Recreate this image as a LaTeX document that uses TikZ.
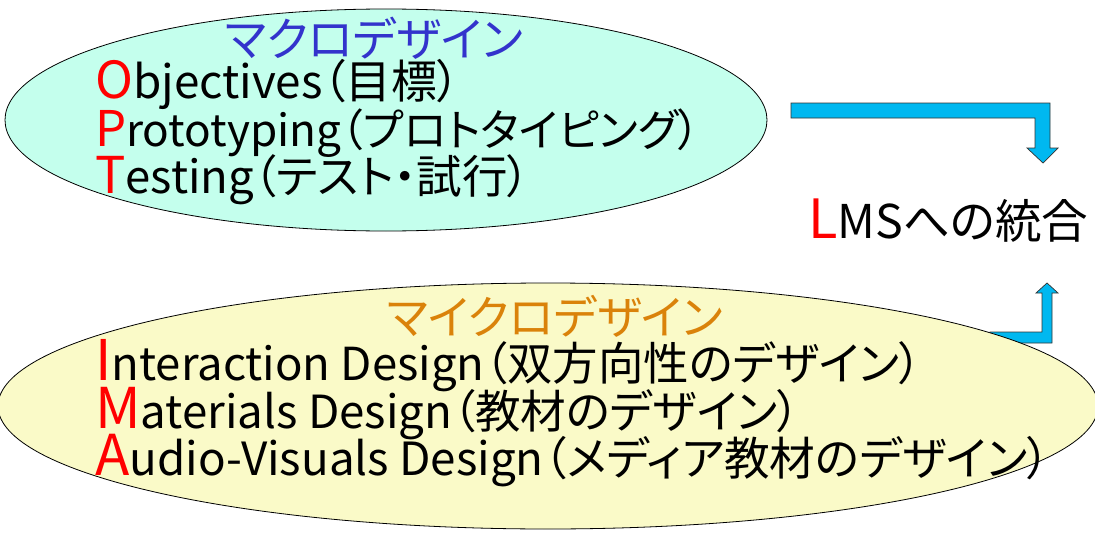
\documentclass[tikz,border=0pt]{standalone}
\usepackage{fontspec}
\setmainfont{Noto Sans CJK JP}[RawFeature=+palt]
\usetikzlibrary{shapes.geometric}
\definecolor{arrowblue}{RGB}{0,184,240}
\definecolor{macrofill}{RGB}{196,255,237}
\definecolor{microfill}{RGB}{250,250,200}
\definecolor{titleblue}{RGB}{51,51,204}
\definecolor{titleorange}{RGB}{218,130,10}
\newcommand{\redcap}[2][48]{{\fontsize{#1}{#1}\selectfont\color{red}#2}}
\newcommand{\bodytxt}[1]{{\fontsize{43}{43}\selectfont #1}}
\newcommand{\tight}[1]{\raisebox{0pt}[33pt][8pt]{#1}}
\tikzset{
  blob/.style={ellipse, draw=black, line width=0.8pt, inner sep=0pt},
  blockarrow/.style={fill=arrowblue, draw=black!80, line width=0.7pt, line join=miter},
  line/.style={anchor=base west, inner sep=0pt, text=black},
  title/.style={anchor=center, inner sep=0pt},
}
\begin{document}
\begin{tikzpicture}[x=1pt,y=-1pt]
\useasboundingbox (0,0) rectangle (1095,535);
% bottom arrow (behind the micro ellipse)
\draw[blockarrow] (990,332) -- (1042,332) -- (1042,293) -- (1036,293) -- (1047,283) -- (1058,293) -- (1052,293) -- (1052,343) -- (990,343) -- cycle;
% ellipses
\node[blob, fill=macrofill, minimum width=762pt, minimum height=222pt] (macro) at (386,120) {};
\node[blob, fill=microfill, minimum width=1100pt, minimum height=246pt] (micro) at (548,406) {};
% top arrow
\draw[blockarrow] (791,103) -- (1050,103) -- (1050,148) -- (1058,148) -- (1043,163) -- (1027,148) -- (1035,148) -- (1035,118) -- (791,118) -- cycle;
% macro text
\node[title, text=titleblue] (macrot) at (374,38) {\resizebox{298pt}{!}{\fontsize{40}{40}\selectfont マクロデザイン}};
\node[line] (o) at (95,98) {\tight{\resizebox{365pt}{!}{\redcap{O}\bodytxt{bjectives（目標）}}}};
\node[line] (p) at (95,146) {\tight{\resizebox{605pt}{!}{\redcap{P}\bodytxt{rototyping（プロトタイピング）}}}};
\node[line] (t) at (95,193) {\tight{\resizebox{435pt}{!}{\redcap{T}\bodytxt{esting（テスト・試行）}}}};
% micro text
\node[title, text=titleorange] (microt) at (555,316) {\resizebox{336pt}{!}{\fontsize{40}{40}\selectfont マイクロデザイン}};
\node[line] (i) at (95,380) {\tight{\resizebox{827pt}{!}{\redcap[53]{I}\bodytxt{nteraction Design（双方向性のデザイン）}}}};
\node[line] (m) at (95,428) {\tight{\resizebox{705pt}{!}{\redcap[53]{M}\bodytxt{aterials Design（教材のデザイン）}}}};
\node[line] (a) at (95,475) {\tight{\resizebox{955pt}{!}{\redcap[53]{A}\bodytxt{udio-Visuals Design（メディア教材のデザイン）}}}};
% LMS
\node[line] (lms) at (808,238) {\tight{\resizebox{280pt}{!}{\redcap[50]{L}\bodytxt{MSへの統合}}}};
\end{tikzpicture}
\end{document}
